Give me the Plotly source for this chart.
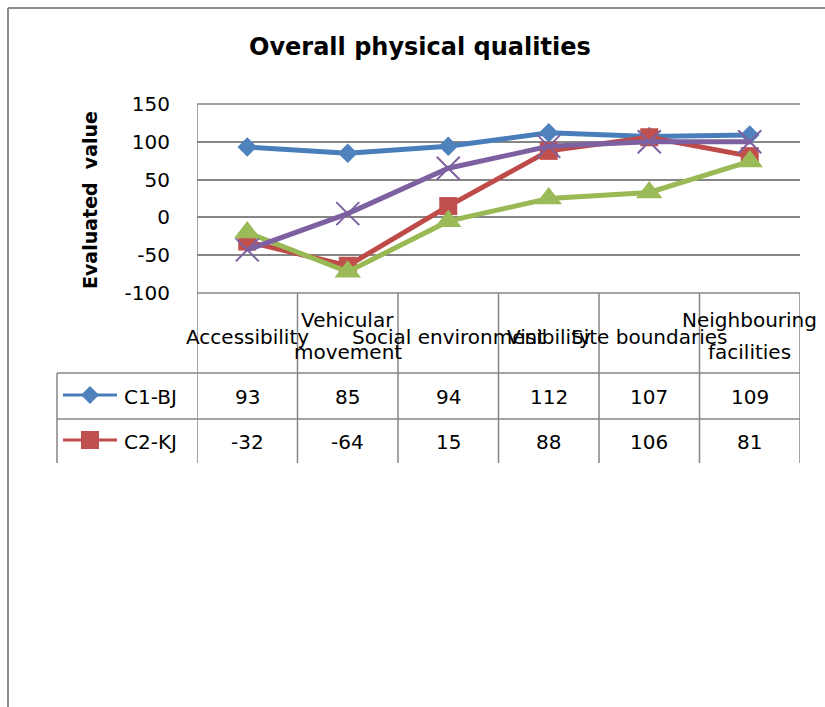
import plotly.graph_objects as go

# ---------------- data ----------------
categories = ["Accessibility", "Vehicular movement", "Social environment",
              "Visibility", "Site boundaries", "Neighbouring facilities"]
label_lines = [["Accessibility"], ["Vehicular", "movement"], ["Social environment"],
               ["Visibility"], ["Site boundaries"], ["Neighbouring", "facilities"]]
c1_bj = [93, 85, 94, 112, 107, 109]
c2_kj = [-32, -64, 15, 88, 106, 81]
c3 = [-20, -72, -5, 25, 33, 74]
c4 = [-43, 5, 65, 94, 100, 100]
y_ticks = [-100, -50, 0, 50, 100, 150]
y_tick_labels = [str(v) for v in y_ticks]
table_series = [("C1-BJ", c1_bj), ("C2-KJ", c2_kj)]

# ---------------- layout helpers ----------------
W, H = 825, 707
L, R, T, B = 197, 800, 104, 293


def px(x):
    return (x - L) / (R - L)


def py(y):
    return (B - y) / (B - T)


FONT = "DejaVu Sans"
GRID = "#868686"
BLUE, BLUE_M = "#4A7EBB", "#4F81BD"
RED, RED_M = "#BE4B48", "#C0504D"
GREEN, GREEN_M = "#98B954", "#9BBB59"
PURPLE = "#7D60A0"

fig = go.Figure()

styles = [
    ("C1-BJ", c1_bj, BLUE, dict(symbol="diamond", size=15, color=BLUE_M)),
    ("C2-KJ", c2_kj, RED, dict(symbol="square", size=18, color=RED_M)),
    ("C3", c3, GREEN, dict(symbol="triangle-up", size=23, color=GREEN_M)),
    ("C4", c4, PURPLE, dict(symbol="x-thin", size=23, color=PURPLE,
                             line=dict(color=PURPLE, width=2))),
]
for name, vals, col, mk in styles:
    fig.add_trace(go.Scatter(x=categories, y=vals, name=name, mode="lines+markers",
                             line=dict(color=col, width=5), marker=mk,
                             cliponaxis=False, showlegend=False))

shapes = []
# table vertical lines (column borders)
for i in range(len(categories) + 1):
    shapes.append(dict(type="line", xref="x", yref="paper", x0=i - 0.5, x1=i - 0.5,
                       y0=0 if i > 0 else 1, y1=py(463), line=dict(color=GRID, width=1.5)))
# table horizontal lines
for yl in [373, 419]:
    shapes.append(dict(type="line", xref="paper", yref="paper", x0=px(57), x1=px(R),
                       y0=py(yl), y1=py(yl), line=dict(color=GRID, width=1.5)))
shapes.append(dict(type="line", xref="paper", yref="paper", x0=px(57), x1=px(57),
                   y0=py(373), y1=py(463), line=dict(color=GRID, width=1.5)))
# x-axis line / top grid line
for yl in [B, T]:
    shapes.append(dict(type="line", xref="paper", yref="paper", x0=0, x1=1,
                       y0=py(yl), y1=py(yl), line=dict(color=GRID, width=1.5)))

# legend keys in the data table
key_rows = [397, 442]
key_cols = [(BLUE, BLUE_M), (RED, RED_M)]
for idx, (yk, (lc, mc)) in enumerate(zip(key_rows, key_cols)):
    yc = yk - 2
    shapes.append(dict(type="line", xref="paper", yref="paper", x0=px(63), x1=px(117),
                       y0=py(yc), y1=py(yc), line=dict(color=lc, width=3)))
    if idx == 0:
        pts = [(90, yc - 9), (99, yc), (90, yc + 9), (81, yc)]
    else:
        pts = [(81, yc - 9), (99, yc - 9), (99, yc + 9), (81, yc + 9)]
    path = "M " + " L ".join(f"{px(a):.5f},{py(b):.5f}" for a, b in pts) + " Z"
    shapes.append(dict(type="path", xref="paper", yref="paper", path=path,
                       fillcolor=mc, line=dict(width=0)))

# outer chart border
shapes.append(dict(type="line", xref="paper", yref="paper", x0=px(8), x1=px(830),
                   y0=py(8), y1=py(8), line=dict(color="#8C8C8C", width=2)))
shapes.append(dict(type="line", xref="paper", yref="paper", x0=px(8), x1=px(8),
                   y0=py(8), y1=py(710), line=dict(color="#8C8C8C", width=2)))

annotations = []
annotations.append(dict(text="<b>Overall physical qualities</b>", xref="paper", yref="paper",
                        x=px(420), y=py(47), showarrow=False, xanchor="center",
                        yanchor="middle", font=dict(family=FONT, size=24, color="#000")))
annotations.append(dict(text="<b>Evaluated  value</b>", xref="paper", yref="paper",
                        x=px(90), y=py(200), showarrow=False, textangle=-90,
                        xanchor="center", yanchor="middle",
                        font=dict(family=FONT, size=19, color="#000")))
# category labels
for cat, lines in zip(categories, label_lines):
    ys = [337] if len(lines) == 1 else [320, 352]
    for txt, yv in zip(lines, ys):
        annotations.append(dict(text=txt, xref="x", yref="paper", x=cat, y=py(yv),
                                showarrow=False, xanchor="center", yanchor="middle",
                                font=dict(family=FONT, size=20, color="#000")))
# table rows
for (name, vals), yr in zip(table_series, key_rows):
    annotations.append(dict(text=name, xref="paper", yref="paper", x=px(122), y=py(yr),
                            showarrow=False, xanchor="left", yanchor="middle",
                            font=dict(family=FONT, size=20, color="#000")))
    for cat, v in zip(categories, vals):
        annotations.append(dict(text=str(v), xref="x", yref="paper", x=cat, y=py(yr),
                                showarrow=False, xanchor="center", yanchor="middle",
                                font=dict(family=FONT, size=20, color="#000")))

fig.update_layout(
    width=W, height=H,
    margin=dict(l=L, r=W - R, t=T, b=H - B),
    paper_bgcolor="white", plot_bgcolor="white",
    showlegend=False,
    shapes=shapes, annotations=annotations,
    xaxis=dict(type="category", range=[-0.5, 5.5], showticklabels=False,
               showgrid=False, zeroline=False, ticks=""),
    yaxis=dict(range=[-100, 150], tickvals=y_ticks, ticktext=y_tick_labels,
               showgrid=True, gridcolor=GRID, gridwidth=1.5, zeroline=False,
               ticks="", ticklabelstandoff=26,
               tickfont=dict(family=FONT, size=20, color="#000")),
)

fig.write_html("out.html", config={"displayModeBar": False},
               post_script="document.body.style.margin='0px';")
